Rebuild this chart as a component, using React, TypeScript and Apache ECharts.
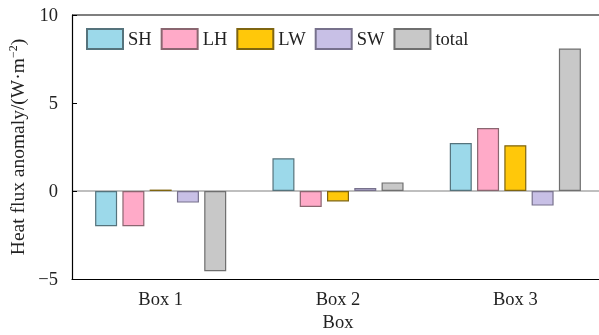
import React, { useEffect, useRef } from "react";
import * as echarts from "echarts";

const categories = ["Box 1", "Box 2", "Box 3"];
const seriesNames = ["SH", "LH", "LW", "SW", "total"];
const SH = [-2.0, 1.86, 2.73];
const LH = [-2.0, -0.91, 3.58];
const LW = [0.08, -0.59, 2.6];
const SW = [-0.66, 0.17, -0.83];
const TOTAL = [-4.56, 0.49, 8.1];
const yTicks = { min: -5, max: 10, interval: 5 };

const fills = ["#9cd9ea", "#ffaac8", "#ffc80a", "#c8c0e6", "#c8c8c8"];
const borders = ["#55737c", "#8a6670", "#7f6510", "#77718c", "#6f6f6f"];

const FONT = '"Liberation Serif", "Times New Roman", serif';
const FS = 18.5;

export default function App() {
  const ref = useRef<HTMLDivElement>(null);
  useEffect(() => {
    if (!ref.current) return;
    const chart = echarts.init(ref.current, null, { renderer: "svg" });
    const values = [SH, LH, LW, SW, TOTAL];
    chart.setOption({
      animation: false,
      textStyle: { fontFamily: FONT },
      grid: { left: 72, top: 15, width: 532, bottom: 56, outerBoundsMode: "none", containLabel: false },
      legend: {
        top: 28,
        left: 86,
        padding: 0,
        icon: "rect",
        itemWidth: 36,
        itemHeight: 20,
        itemGap: 9,
        textStyle: { fontFamily: FONT, fontSize: FS, color: "#222" },
        data: seriesNames,
      },
      xAxis: {
        type: "category",
        data: categories,
        name: "Box",
        nameLocation: "middle",
        nameGap: 33,
        nameTextStyle: { fontFamily: FONT, fontSize: FS, color: "#222" },
        axisLine: { onZero: false, lineStyle: { color: "#000", width: 1.2 } },
        axisTick: { inside: true, alignWithLabel: true, length: 5, lineStyle: { color: "#000" } },
        axisLabel: { fontFamily: FONT, fontSize: FS, color: "#222", margin: 10 },
      },
      yAxis: {
        type: "value",
        min: yTicks.min,
        max: yTicks.max,
        interval: yTicks.interval,
        name: "Heat flux anomaly/(W·m{sup|−2})",
        nameLocation: "middle",
        nameGap: 45,
        nameTextStyle: {
          fontFamily: FONT,
          fontSize: 19.5,
          color: "#222",
          rich: { sup: { fontFamily: FONT, fontSize: 12, color: "#222", verticalAlign: "top", padding: [0, 0, 8, 0] } },
        },
        axisLine: { show: true, lineStyle: { color: "#000", width: 1.2 } },
        axisTick: { show: true, inside: true, length: 5, lineStyle: { color: "#000" } },
        axisLabel: {
          fontFamily: FONT,
          fontSize: FS,
          color: "#222",
          margin: 14,
          formatter: (v: number) => (v < 0 ? "\u2212" + Math.abs(v) : String(v)),
        },
        splitLine: { show: false },
      },
      graphic: [
        {
          type: "line",
          shape: { x1: 72, y1: 15, x2: 610, y2: 15 },
          style: { stroke: "#000", lineWidth: 1.2 },
          z: 10,
        },
      ],
      series: seriesNames.map((name, i) => ({
        name,
        type: "bar",
        data: values[i],
        barWidth: 22,
        barGap: "24%",
        itemStyle: { color: fills[i], borderColor: borders[i], borderWidth: 1.2 },
        ...(i === 0
          ? {
              markLine: {
                silent: true,
                symbol: "none",
                label: { show: false },
                lineStyle: { color: "#aaaaaa", width: 1.5, type: "solid" },
                data: [{ yAxis: 0 }],
                z: 0,
              },
            }
          : {}),
      })),
    });
    return () => chart.dispose();
  }, []);
  return (
    <div
      ref={ref}
      style={{ position: "fixed", left: 0, top: 0, width: 599, height: 335, overflow: "hidden" }}
    />
  );
}
